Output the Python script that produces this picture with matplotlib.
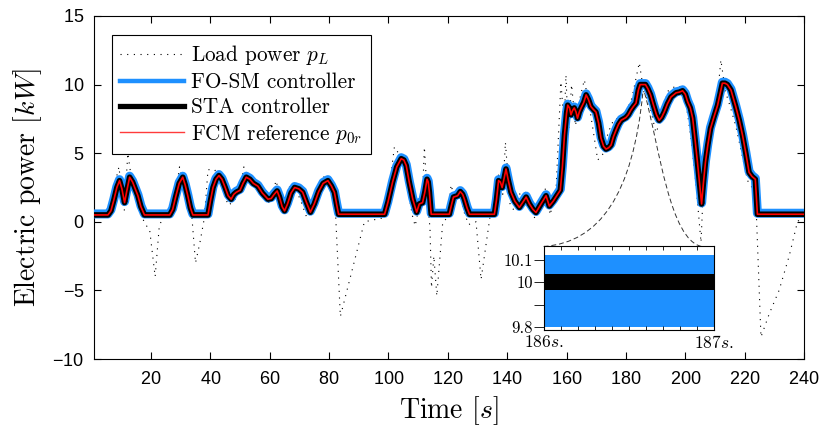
import numpy as np
import matplotlib
matplotlib.use("Agg")
import matplotlib.pyplot as plt
import matplotlib.transforms as mtransforms
from matplotlib.lines import Line2D
from matplotlib.path import Path
from matplotlib.patches import PathPatch
from matplotlib.ticker import MultipleLocator

# ---------------------------------------------------------------- data
# FCM reference power p0r [kW] (tracked by both controllers)
ref_time = [0.8, 5.5, 6.5, 7.5, 8.5, 9.4, 10.2, 11.1, 11.9, 12.8, 13.8, 14.7, 15.6,
            16.6, 17.8, 26.3, 27.3, 28.3, 29.5, 30.7, 31.5, 32.4, 33.3, 34.1, 39.2,
            40.0, 40.9, 41.9, 42.9, 43.9, 45.0, 46.0, 47.0, 47.9, 48.7, 50.0, 51.0,
            52.1, 53.3, 54.5, 56.0, 57.5, 59.4, 60.5, 61.5, 62.5, 63.3, 64.2, 65.0,
            66.0, 67.2, 68.4, 69.8, 71.1, 72.4, 73.7, 75.0, 76.5, 78.0, 79.6, 80.8,
            81.8, 82.6, 83.2, 98.7, 99.8, 101.4, 102.8, 104.3, 105.2, 106.0, 107.0,
            108.2, 109.5, 110.4, 111.5, 112.3, 113.0, 113.4, 113.8, 114.4, 120.5,
            121.2, 121.9, 123.3, 124.2, 125.0, 125.6, 126.5, 127.3, 135.7, 136.4,
            137.1, 137.7, 138.3, 139.0, 139.6, 140.4, 141.3, 142.6, 144.1, 145.2,
            146.4, 147.5, 148.7, 149.7, 151.4, 153.1, 154.2, 155.5, 157.0, 157.9,
            158.6, 159.3, 160.0, 160.4, 161.0, 161.5, 162.0, 162.6, 163.2, 163.7,
            164.3, 164.9, 165.8, 166.6, 167.4, 168.2, 169.0, 169.9, 170.8, 171.6,
            172.5, 173.3, 174.2, 175.0, 175.8, 176.7, 177.5, 178.4, 179.2, 180.0,
            180.8, 181.7, 182.5, 183.4, 184.2, 184.8, 186.6, 187.4, 188.3, 189.3,
            190.3, 191.2, 192.0, 192.9, 194.0, 195.2, 196.9, 198.0, 199.1, 200.0,
            200.8, 201.7, 202.5, 203.3, 204.1, 204.8, 205.5, 206.1, 206.8, 207.6,
            208.5, 209.6, 210.9, 211.7, 212.5, 213.4, 214.2, 214.8, 215.4, 216.2,
            217.0, 218.2, 219.3, 220.4, 221.5, 222.5, 223.6, 224.3, 240.0]
ref_power = [0.5, 0.5, 0.8, 1.6, 2.5, 3.0, 2.4, 1.4, 2.3, 3.25, 2.9, 2.4, 1.9,
             1.1, 0.5, 0.5, 0.9, 1.8, 2.8, 3.25, 2.7, 1.9, 1.0, 0.5, 0.5,
             1.5, 2.5, 3.1, 3.37, 3.1, 2.5, 1.9, 1.65, 2.0, 2.15, 2.3, 2.8,
             3.25, 3.1, 2.8, 2.6, 2.1, 1.65, 1.7, 2.0, 2.25, 1.8, 1.1, 0.8,
             1.3, 2.1, 2.5, 2.4, 2.15, 1.4, 0.7, 1.3, 2.2, 2.8, 3.0, 2.6,
             2.15, 1.2, 0.55, 0.55, 1.4, 2.9, 4.0, 4.6, 4.5, 4.1, 2.9,
             1.65, 0.7, 1.3, 1.4, 2.2, 3.1, 2.9, 2.15, 0.55, 0.55,
             1.2, 1.8, 1.9, 2.2, 2.0, 1.65, 1.0, 0.55, 0.55, 1.6,
             3.0, 2.9, 2.5, 3.2, 3.85, 3.0, 2.15, 1.5, 1.05, 1.4,
             1.8, 1.3, 0.9, 0.68, 1.3, 1.9, 1.15, 1.5, 2.0, 2.3,
             4.0, 6.3, 7.9, 8.5, 8.3, 7.8, 8.1, 8.3, 8.0, 7.55,
             8.0, 8.3, 8.7, 9.25, 8.9, 8.4, 8.2, 8.0, 7.2, 6.1,
             5.5, 5.3, 5.4, 5.6, 6.2, 6.7, 7.1, 7.4, 7.5, 7.6,
             7.8, 8.15, 8.4, 8.65, 9.6, 10.0, 10.0, 9.7, 9.25, 8.5,
             7.8, 7.4, 7.6, 8.0, 8.6, 9.1, 9.4, 9.45, 9.55, 9.3,
             8.75, 8.3, 7.55, 6.0, 4.35, 2.8, 1.3, 2.8, 4.35, 5.6,
             6.8, 7.6, 8.5, 9.3, 10.1, 10.1, 10.0, 9.8, 9.6, 9.0,
             8.4, 7.4, 6.3, 5.0, 3.6, 3.3, 3.1, 0.55, 0.55]

# Load power p_L [kW]
load_time = [0.8, 5.0, 7.0, 9.2, 10.5, 11.0, 12.2, 13.5, 15.0, 16.5, 18.5, 19.5,
             21.4, 22.8, 24.0, 28.0, 29.6, 31.0, 32.5, 33.8, 35.0, 36.5, 38.0,
             39.2, 41.5, 44.0, 46.0, 48.0, 50.0, 51.3, 54.0, 57.0, 59.5, 62.2,
             64.5, 66.5, 68.0, 70.5, 72.5, 75.0, 78.6, 80.5, 82.2, 83.8, 91.9,
             98.5, 100.0, 102.0, 104.0, 106.5, 108.0, 109.0, 110.5, 111.5, 112.1,
             113.2, 114.0, 114.5, 115.3, 116.3, 118.3, 120.0, 121.1, 122.5, 124.0,
             125.5, 127.0, 129.5, 131.2, 133.0, 134.3, 136.0, 137.0, 138.5, 139.4,
             141.0, 142.5, 144.0, 146.0, 148.0, 149.5, 151.0, 153.0, 154.5, 156.5,
             158.1, 159.2, 159.8, 160.6, 161.7, 163.0, 164.5, 166.0, 168.0, 170.5,
             172.5, 174.0, 176.0, 178.0, 180.0, 182.0, 184.5, 186.0, 188.0, 190.1,
             192.0, 194.0, 196.0, 198.0, 200.0, 202.0, 203.5, 204.5, 205.3, 206.0,
             207.0, 208.5, 210.0, 211.0, 212.0, 213.5, 215.0, 217.0, 219.0, 221.0,
             222.5, 224.0, 225.5, 228.3, 231.6, 235.0, 237.8, 240.0]
load_power = [0.5, 0.5, 2.0, 4.0, 1.5, 0.8, 5.0, 3.0, 2.5, 0.5, -0.3, -0.5,
              -4.0, -0.3, 0.3, 1.5, 4.0, 2.5, 1.0, 0.3, -3.0, -1.5, 0.3,
              3.8, 3.8, 2.5, 1.2, 1.5, 2.5, 4.0, 2.8, 2.0, 1.3, 3.0,
              0.5, 2.5, 2.8, 1.5, 0.3, 2.0, 3.4, 2.5, 0.5, -6.9, 0.0,
              0.3, 2.0, 5.45, 4.8, 2.5, 0.5, -0.3, 1.3, 2.0, 5.45,
              1.5, -0.5, -4.8, -2.5, -5.4, 0.0, 0.3, 2.7, 1.5, 2.5,
              0.7, -0.2, 0.0, -4.2, -1.5, 0.5, 2.5, 3.5, 2.0, 5.8,
              1.2, 0.8, 2.0, 2.2, 0.8, 0.2, 1.0, 2.5, 0.5, 2.5,
              10.2, 7.0, 10.7, 6.3, 10.0, 7.0, 9.0, 10.35, 8.0, 4.5,
              5.0, 6.5, 7.5, 7.5, 8.0, 9.0, 11.6, 9.5, 8.5, 6.5,
              7.5, 9.5, 9.8, 9.9, 9.0, 6.0, 3.0, 0.5, -1.5, 2.0,
              6.5, 7.5, 8.5, 9.5, 11.8, 9.5, 8.5, 7.0, 5.0, 3.0,
              2.5, 0.3, -8.4, -6.7, -5.0, -2.5, 0.0, 0.5]

# Zoomed window 186 s - 187 s: envelopes of the chattering outputs
inset_time = [186.0, 187.0]
fo_sm_band = [9.80, 10.12]
sta_band = [9.965, 10.035]

legend_labels = [r"Load power $p_L$", "FO-SM controller", "STA controller",
                 r"FCM reference $p_{0r}$"]
x_ticks = [20, 40, 60, 80, 100, 120, 140, 160, 180, 200, 220, 240]
y_ticks = [-10, -5, 0, 5, 10, 15]
inset_y_ticks = [9.8, 9.9, 10.0, 10.1]
inset_y_labels = ["9.8", "", "10", "10.1"]
inset_x_labels = [r"$186s.$", r"$187s.$"]

# ---------------------------------------------------------------- style
plt.rcParams["font.family"] = ["Liberation Sans Narrow", "Liberation Sans"]
plt.rcParams["mathtext.fontset"] = "cm"
plt.rcParams["axes.unicode_minus"] = False
plt.rcParams["axes.formatter.use_mathtext"] = True
SERIF = "cmr10"
BLUE = "#1E90FF"
DOTTED = (0, (1, 5))

fig = plt.figure(figsize=(8.23, 4.32), dpi=100)
ax = fig.add_axes([94 / 823, 1 - 359 / 432, 710 / 823, 343 / 432])

# load power
ax.plot(load_time, load_power, color="black", lw=0.8, ls=DOTTED, zorder=2)

# controller outputs and reference
blue_tr = mtransforms.offset_copy(ax.transData, fig=fig, x=0, y=1.0, units="dots")
ax.plot(ref_time, ref_power, color=BLUE, lw=6.5, solid_joinstyle="round",
        solid_capstyle="butt", transform=blue_tr, zorder=3)
ax.plot(ref_time, ref_power, color="black", lw=4.0, solid_joinstyle="round",
        solid_capstyle="butt", zorder=4)
ax.plot(ref_time, ref_power, color="red", lw=1.2, zorder=5)

ax.set_xlim(0.8, 240)
ax.set_ylim(-10, 15)
ax.set_xticks(x_ticks)
ax.set_yticks(y_ticks)
ax.tick_params(direction="in", top=True, right=True, length=5, width=0.8,
               labelsize=13)
ax.tick_params(axis="x", pad=9)
ax.tick_params(axis="y", pad=7)
for sp in ax.spines.values():
    sp.set_linewidth(0.8)

ax.set_xlabel(r"Time $[s]$", family=SERIF, fontsize=20, labelpad=4)
ax.set_ylabel(r"Electric power $[kW]$", family=SERIF, fontsize=20, labelpad=6)

handles = [
    Line2D([], [], color="black", lw=0.8, ls=DOTTED),
    Line2D([], [], color=BLUE, lw=3.2),
    Line2D([], [], color="black", lw=3.8),
    Line2D([], [], color="#FF3B3B", lw=1.0),
]
leg = ax.legend(handles, legend_labels, loc="upper left",
                bbox_to_anchor=(18 / 710, 1 - 19 / 343), borderaxespad=0,
                prop={"family": SERIF, "size": 15.3}, handlelength=3.0,
                handletextpad=0.35, labelspacing=0.26, borderpad=0.38,
                fancybox=False, framealpha=1, edgecolor="black")
leg.get_frame().set_linewidth(0.8)
leg.set_zorder(10)

# zoom window
axin = ax.inset_axes([152.3, -7.9, 57.3, 6.1], transform=ax.transData)
axin.fill_between(inset_time, fo_sm_band[0], fo_sm_band[1], color=BLUE, lw=0)
axin.fill_between(inset_time, sta_band[0], sta_band[1], color="black", lw=0)
axin.set_xlim(186, 187)
axin.set_ylim(9.787, 10.158)
axin.set_xticks(inset_time)
axin.set_xticklabels(inset_x_labels)
axin.xaxis.set_minor_locator(MultipleLocator(0.1))
axin.set_yticks(inset_y_ticks)
axin.set_yticklabels(inset_y_labels, family=SERIF)
axin.tick_params(axis="x", which="both", direction="in", top=True, length=3,
                 width=0.6, labelsize=12.5, pad=2.5)
axin.tick_params(axis="y", direction="out", length=7, width=0.6,
                 labelsize=12, pad=1)
for sp in axin.spines.values():
    sp.set_linewidth(0.8)

# curved connectors from the peak to the zoom window
codes = [Path.MOVETO, Path.CURVE4, Path.CURVE4, Path.CURVE4]
left_path = Path([(152.3, -1.8), (171.2, -1.5), (182.3, 2.0), (185.7, 9.4)], codes)
right_path = Path([(186.3, 9.4), (191.4, 5.3), (194.8, -1.3), (205.5, -1.8)], codes)
for p in (left_path, right_path):
    ax.add_patch(PathPatch(p, facecolor="none", edgecolor="#333333", lw=0.7,
                           ls=(0, (5, 3)), zorder=2))

fig.savefig("out.png", dpi=100)
